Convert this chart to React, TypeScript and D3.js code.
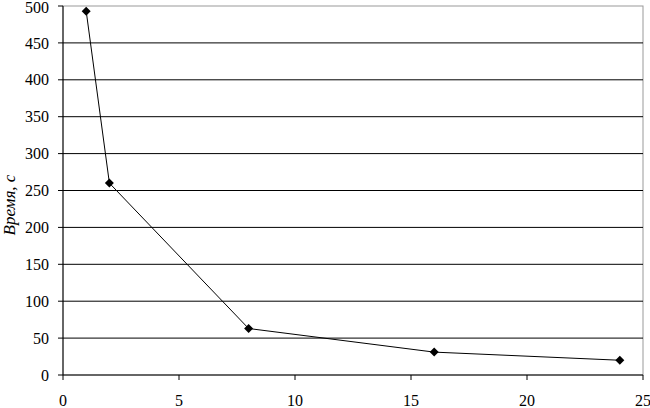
import React from "react";
import * as d3 from "d3";

const xValues = [1, 2, 8, 16, 24];
const yValues = [493, 260, 63, 31, 20];
const xTicks = [0, 5, 10, 15, 20, 25];
const yTicks = [0, 50, 100, 150, 200, 250, 300, 350, 400, 450, 500];
const yTitle = "Время, с";

export default function App() {
  const W = 650, H = 408;
  const left = 63, right = 643, top = 6, bottom = 375;
  const x = d3.scaleLinear().domain([0, 25]).range([left, right]);
  const y = d3.scaleLinear().domain([0, 500]).range([bottom, top]);
  const pts = xValues.map((v, i) => [x(v), y(yValues[i])] as [number, number]);
  const line = d3.line()(pts) || "";
  const font = "'Liberation Serif', 'Times New Roman', serif";
  const r = 4.5;
  const diamond = `M0,${-r}L${r},0L0,${r}L${-r},0Z`;
  return (
    <svg width={W} height={H} style={{ position: "absolute", left: 0, top: 0 }}>
      <rect x={0} y={0} width={W} height={H} fill="#fff" />
      <rect x={left} y={top} width={right - left} height={bottom - top} fill="none" stroke="#999" strokeWidth={1} />
      {yTicks.filter(t => t > 0 && t < 500).map(t => (
        <line key={t} x1={left} x2={right} y1={y(t)} y2={y(t)} stroke="#000" strokeWidth={1} />
      ))}
      <line x1={left} x2={left} y1={top} y2={bottom} stroke="#000" />
      <line x1={left} x2={right} y1={bottom} y2={bottom} stroke="#000" />
      {yTicks.map(t => (
        <g key={t}>
          <line x1={left - 5} x2={left} y1={y(t)} y2={y(t)} stroke="#000" />
          <text x={49} y={y(t) + (t === 500 ? 1 : 0)} dy="0.35em" textAnchor="end" fontFamily={font} fontSize={16}>{t}</text>
        </g>
      ))}
      {xTicks.map(t => (
        <g key={t}>
          <line x1={x(t)} x2={x(t)} y1={bottom} y2={bottom + 5} stroke="#000" />
          <text x={x(t)} y={406} textAnchor="middle" fontFamily={font} fontSize={16}>{t}</text>
        </g>
      ))}
      <text transform={`translate(15, 205) rotate(-90)`} textAnchor="middle" fontFamily={font} fontStyle="italic" fontSize={17}>{yTitle}</text>
      <path d={line} fill="none" stroke="#000" strokeWidth={1} />
      {pts.map((p, i) => (
        <path key={i} d={diamond} transform={`translate(${p[0]},${p[1]})`} fill="#000" />
      ))}
    </svg>
  );
}
